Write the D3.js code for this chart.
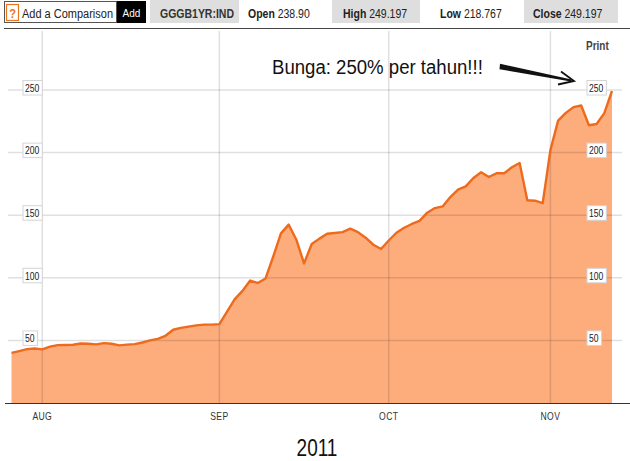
<!DOCTYPE html>
<html><head><meta charset="utf-8">
<script src="https://cdn.jsdelivr.net/npm/d3@7/dist/d3.min.js"></script>
<style>
html,body{margin:0;padding:0;background:#fff;}
svg{display:block;font-family:"Liberation Sans",Arial,sans-serif;}
</style></head>
<body>
<svg id="c" width="630" height="461"></svg>
<script>
// ---- data ----
const startDate = new Date(2011, 6, 26);   // first trading day shown
const endDate = new Date(2011, 10, 11);    // last trading day shown
const values = [40,41.5,43,43.5,42.8,45,46.2,46.3,46.5,47.5,
  47.3,46.8,47.8,47.3,46,46.6,47,48.3,50,51.2,
  53.7,58.5,60,61,62,62.6,62.6,63,73,83,
  89.5,97.8,95.8,99.5,117,135.5,142.5,130.4,111.5,127,
  131.3,135.2,135.8,136.5,139.2,136.5,132,126.4,123,129.8,
  136,140,143,145.5,152,155.7,157,164.5,170.4,173,
  179.7,184.3,180.5,183.5,183.5,188.3,191.7,161.9,161.6,159.7,
  202,225.5,231.7,236.3,237.6,221.8,222.8,231.5,249.2];
const monthLabels = ["AUG","SEP","OCT","NOV"];
const yTicks = [50,100,150,200,250];
const ticker = "GGGB1YR:IND";
const quote = [["Open","238.90"],["High","249.197"],["Low","218.767"],["Close","249.197"]];
const annotation = "Bunga: 250% per tahun!!!";
const yearLabel = "2011";

// ---- build ----
const dates = d3.timeDay.range(startDate, d3.timeDay.offset(endDate, 1)).filter(d => d.getDay() % 6 !== 0);
const keys = dates.map(d => +d);
const data = dates.map((d, i) => ({key: +d, date: d, v: values[i]}));

const svg = d3.select("#c");
const x = d3.scalePoint().domain(keys).range([11.5, 612]);
const y = d3.scaleLinear().domain([0, 250]).range([403, 90]);

const monthStarts = dates.filter((d, i) => i > 0 && d.getMonth() !== dates[i - 1].getMonth());

function txt(g, x0, y0, s, o) {
  o = o || {};
  return g.append("text")
    .attr("transform", `translate(${x0},${y0}) scale(${o.sx || 1},${o.sy || 1})`)
    .attr("font-size", o.size || 11)
    .attr("font-weight", o.bold ? "bold" : "normal")
    .attr("fill", o.fill || "#222")
    .attr("text-anchor", o.anchor || "start")
    .attr("letter-spacing", o.ls || 0)
    .text(s);
}

// ---- header ----
const hdr = svg.append("g");
hdr.append("rect").attr("x", 4.5).attr("y", 1.5).attr("width", 112).attr("height", 21).attr("fill", "#fff").attr("stroke", "#555");
hdr.append("rect").attr("x", 6.5).attr("y", 4.5).attr("width", 12).attr("height", 16).attr("fill", "#fff").attr("stroke", "#e87722").attr("stroke-width", 1.2);
txt(hdr, 12.5, 17.5, "?", {size: 11, fill: "#e87722", anchor: "middle", bold: true, sy: 1.1});
txt(hdr, 22, 18, "Add a Comparison", {size: 11, fill: "#222", sy: 1.15});
hdr.append("rect").attr("x", 117).attr("y", 1).attr("width", 29).attr("height", 22).attr("fill", "#000");
txt(hdr, 131.5, 17, "Add", {size: 10, fill: "#fff", anchor: "middle", sy: 1.15});
hdr.append("rect").attr("x", 150).attr("y", 0).attr("width", 89).attr("height", 23).attr("fill", "#dedede");
txt(hdr, 197, 18, ticker, {size: 10.5, fill: "#333", anchor: "middle", bold: true, sy: 1.2});
const qx = [248, 343, 440, 533];
const qbg = [false, true, false, true];
const qbx = [0, 332, 0, 524];
quote.forEach((q, i) => {
  if (qbg[i]) hdr.append("rect").attr("x", qbx[i]).attr("y", 0).attr("width", i === 1 ? 88 : 94).attr("height", 23).attr("fill", "#dedede");
  const t = hdr.append("text").attr("transform", `translate(${qx[i]},18) scale(1,1.2)`).attr("font-size", 10.5).attr("fill", "#222");
  t.append("tspan").attr("font-weight", "bold").text(q[0]);
  t.append("tspan").text(" " + q[1]);
});
svg.append("line").attr("x1", 4).attr("x2", 630).attr("y1", 28.5).attr("y2", 28.5).attr("stroke", "#444").attr("stroke-width", 1);

// ---- area + line ----
const area = d3.area().x(d => x(d.key)).y0(y(0)).y1(d => y(d.v));
const line = d3.line().x(d => x(d.key)).y(d => y(d.v));
svg.append("path").datum(data).attr("d", area).attr("fill", "#fdac7c");

// gridlines (over area, translucent)
const grid = svg.append("g").attr("stroke", "#000").attr("stroke-opacity", 0.12).attr("stroke-width", 1.5);
grid.selectAll("line.h").data(yTicks).join("line").attr("class", "h")
  .attr("x1", 8).attr("x2", 622).attr("y1", d => y(d)).attr("y2", d => y(d));
grid.selectAll("line.v").data(monthStarts).join("line").attr("class", "v")
  .attr("x1", d => x(+d)).attr("x2", d => x(+d)).attr("y1", 31).attr("y2", 403);

svg.append("path").datum(data).attr("d", line).attr("fill", "none")
  .attr("stroke", "#ee6a1c").attr("stroke-width", 2.4).attr("stroke-linejoin", "round");

// axis baseline
svg.append("line").attr("x1", 5).attr("x2", 630).attr("y1", 403.5).attr("y2", 403.5).attr("stroke", "#333").attr("stroke-width", 1.2);

// y labels (boxed, both sides)
function yLabel(x0, v) {
  const g = svg.append("g");
  const t = txt(g, x0 + 2.5, y(v) + 1.8, String(v), {size: 8.6, fill: "#222", sy: 1.35});
  const w = t.node().getComputedTextLength();
  g.insert("rect", "text").attr("x", x0 + 0.5).attr("y", y(v) - 9.5).attr("width", w + 5).attr("height", 14.5)
    .attr("fill", "#fff").attr("stroke", "#d4d4d4").attr("stroke-width", 1);
}
yTicks.forEach(v => { yLabel(22.5, v); yLabel(586.5, v); });

// month labels
monthStarts.forEach((d, i) => {
  txt(svg, x(+d), 420, monthLabels[i], {size: 8.6, fill: "#333", anchor: "middle", sy: 1.2, ls: 0.4});
});

// Print
txt(svg, 586, 49.5, "Print", {size: 10, fill: "#444", bold: true, sy: 1.2});

// year
txt(svg, 317, 456, yearLabel, {size: 19, fill: "#111", anchor: "middle", sy: 1.25});

// annotation
txt(svg, 272, 74, annotation, {size: 18.6, fill: "#111", sy: 1.05});
svg.append("path").attr("d", "M500,63.8 L571.5,79.6 L571,81.4 L499.5,69.2 Z").attr("fill", "#111");
svg.append("path").attr("d", "M561,71.5 L574,81 L558,84.5").attr("fill", "none").attr("stroke", "#111").attr("stroke-width", 1.8);
</script>
</body></html>
